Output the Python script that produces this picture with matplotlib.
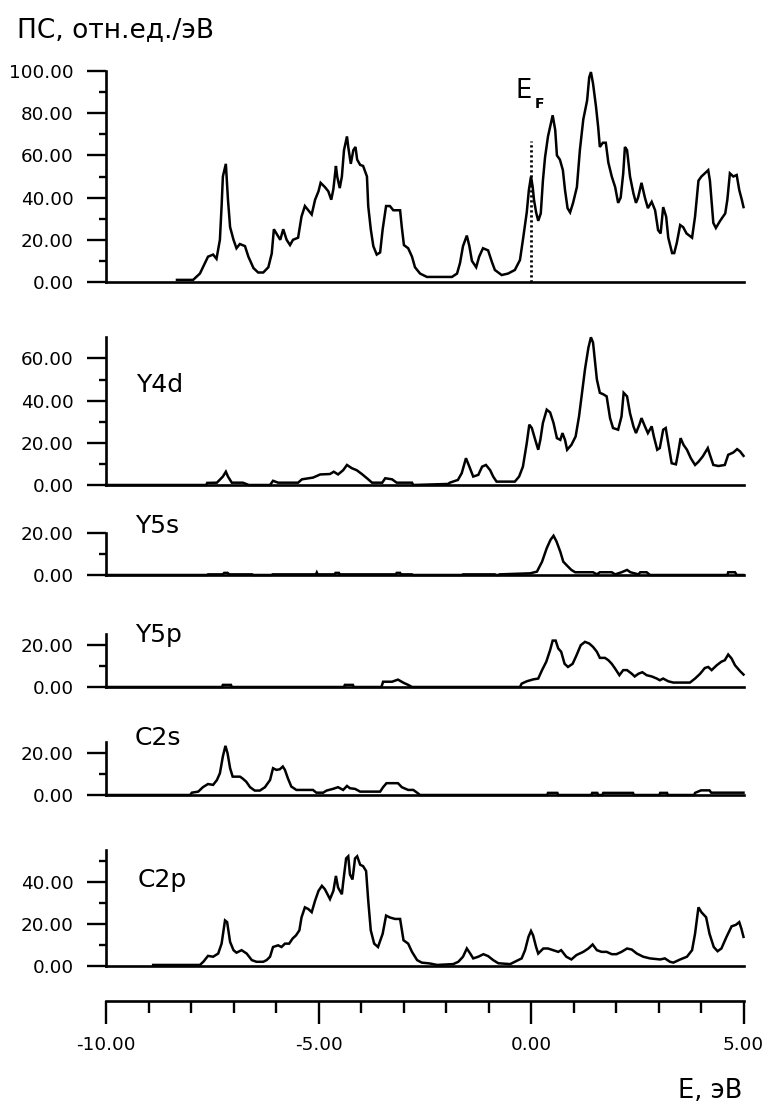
import matplotlib
matplotlib.use('Agg')
import matplotlib.pyplot as plt
from matplotlib.ticker import MultipleLocator, FixedLocator, FormatStrFormatter

plt.rcParams['font.family'] = ['DejaVu Sans']

# ---- data (energy in eV, DOS in rel. units / eV) ----
tdos_e = [-8.33, -7.95, -7.79, -7.67, -7.60, -7.48, -7.40, -7.32, -7.28, -7.25, -7.18, -7.13, -7.08, -7.00,
          -6.93, -6.85, -6.73, -6.65, -6.53, -6.42, -6.30, -6.18, -6.10, -6.05, -5.99, -5.90, -5.83, -5.75,
          -5.67, -5.60, -5.48, -5.40, -5.32, -5.24, -5.16, -5.08, -5.00, -4.95, -4.85, -4.77, -4.70, -4.65,
          -4.59, -4.56, -4.50, -4.45, -4.40, -4.33, -4.30, -4.24, -4.18, -4.13, -4.09, -4.02, -3.95, -3.86,
          -3.83, -3.77, -3.71, -3.63, -3.55, -3.49, -3.41, -3.32, -3.24, -3.16, -3.08, -3.04, -2.99, -2.89,
          -2.80, -2.73, -2.61, -2.45, -1.86, -1.74, -1.67, -1.60, -1.51, -1.45, -1.39, -1.29, -1.22, -1.13,
          -1.01, -0.92, -0.85, -0.69, -0.54, -0.38, -0.26, -0.19, -0.10, -0.05, 0.00, 0.04, 0.07, 0.12,
          0.17, 0.23, 0.28, 0.33, 0.40, 0.51, 0.57, 0.61, 0.68, 0.75, 0.80, 0.86, 0.92, 0.99, 1.08, 1.15,
          1.23, 1.32, 1.37, 1.41, 1.46, 1.53, 1.58, 1.62, 1.69, 1.76, 1.82, 1.90, 1.98, 2.05, 2.11, 2.17,
          2.21, 2.26, 2.33, 2.41, 2.47, 2.52, 2.60, 2.68, 2.75, 2.84, 2.92, 2.99, 3.05, 3.11, 3.18, 3.23,
          3.32, 3.37, 3.43, 3.51, 3.58, 3.66, 3.79, 3.86, 3.94, 4.01, 4.09, 4.17, 4.21, 4.29, 4.35, 4.45,
          4.57, 4.62, 4.68, 4.76, 4.84, 4.90, 4.96, 5.00]
tdos_v = [1.0, 1.0, 4, 9, 12, 13, 11, 20, 36, 50, 56, 39, 26, 20,
          16, 18, 17, 12, 6.6, 4.5, 4.5, 7, 13.5, 25, 23, 20, 25, 20,
          17.5, 20, 21, 31, 36, 34, 32, 39, 43, 47, 45, 43, 39, 44,
          55, 50, 44.5, 50, 62.5, 69, 64, 56, 62.5, 64, 58, 55.5, 55, 50,
          36, 25, 17, 13, 14, 25, 36, 36, 34, 34, 34, 26, 17.5, 16,
          12, 7, 4, 2.4, 2.4, 4, 9, 17, 22, 17, 10, 7, 12, 16,
          15, 9.5, 5.7, 3.3, 4, 5.7, 10.4, 20, 33, 43.6, 50, 45, 39, 33,
          29, 32.5, 48, 59, 69, 79, 72, 60, 58, 53, 43.6, 35, 33, 37.5, 45, 62.5,
          77, 86, 97, 99.5, 94, 83, 73.5, 64, 66, 66, 56.6, 50, 45, 37.5, 40, 51.5,
          64, 62.5, 50, 42, 37.5, 40, 47, 40, 35, 38, 34, 24.6, 23, 35.5, 31, 21,
          13.7, 13.7, 18.5, 27, 26, 23, 21, 31, 48, 50, 51.5, 53, 48, 28, 25.6, 29,
          32.5, 39, 51.5, 50, 50.7, 43.6, 39, 35.5]

y4d_e = [-10.0, -7.64, -7.62, -7.39, -7.25, -7.18, -7.13, -7.04, -6.78, -6.64, -6.14, -6.07, -5.95, -5.48,
         -5.39, -5.13, -4.96, -4.73, -4.64, -4.54, -4.42, -4.33, -4.22, -4.10, -3.98, -3.86, -3.74, -3.50,
         -3.43, -3.27, -3.16, -2.80, -2.77, -1.95, -1.91, -1.72, -1.63, -1.53, -1.45, -1.36, -1.24, -1.15,
         -1.06, -0.96, -0.89, -0.81, -0.38, -0.28, -0.19, -0.10, -0.04, 0.02, 0.10, 0.17, 0.22, 0.28,
         0.37, 0.45, 0.53, 0.61, 0.69, 0.74, 0.80, 0.85, 0.95, 1.05, 1.13, 1.19, 1.27, 1.35, 1.41, 1.46,
         1.55, 1.62, 1.70, 1.78, 1.86, 1.93, 2.05, 2.13, 2.18, 2.26, 2.33, 2.41, 2.47, 2.55, 2.60, 2.68,
         2.75, 2.84, 2.89, 2.97, 3.03, 3.11, 3.17, 3.23, 3.31, 3.41, 3.46, 3.52, 3.59, 3.67, 3.76, 3.86,
         3.94, 4.04, 4.16, 4.21, 4.29, 4.41, 4.56, 4.64, 4.76, 4.85, 4.92, 5.00]
y4d_v = [0, 0, 1.0, 1.1, 4, 6.3, 4, 1.1, 1.1, 0, 0, 2, 1.1, 1.1,
         2.7, 3.5, 5, 5.2, 6.3, 5, 7, 9.5, 8, 7, 5.2, 3.2, 1.1, 1.1,
         3.2, 2.7, 1.1, 1.1, 0, 0.5, 1.1, 2.4, 5.6, 12.7, 8.7, 4, 4.8, 8.7,
         9.5, 7, 4, 1.6, 1.6, 4, 8.7, 19.8, 28.6, 27, 21.4, 16.7, 21.4, 29.4,
         35.7, 34.4, 29.4, 22.2, 21.4, 24.6, 21.4, 16.7, 19, 23, 32.5, 42, 54.8, 65, 70, 67.5,
         50, 43.7, 43, 42, 31.7, 27, 26.2, 32.5, 43.7, 42, 34, 27.8, 24.6, 28.6, 31.7, 27.8,
         24.6, 27.8, 23, 16.7, 17.5, 26.2, 27, 19.8, 10.3, 9.8, 15, 22.2, 19, 16.7, 12.7, 9.5,
         11, 13.5, 17.5, 14.3, 9.5, 9, 9.5, 14.3, 15.4, 17, 15.9, 13.8]

y5s_e = [-10.0, -7.62, -7.60, -7.25, -7.22, -7.14, -7.10, -6.56, -6.54, -6.10, -6.08, -5.06, -5.04, -5.02,
         -4.62, -4.60, -4.52, -4.50, -3.18, -3.16, -3.08, -3.06, -2.80, -2.78, -1.62, -1.60, -0.85, -0.82,
         -0.76, -0.74, -0.02, 0.14, 0.26, 0.37, 0.46, 0.53, 0.60, 0.69, 0.76, 0.87, 0.95, 1.04, 1.46, 1.55,
         1.62, 1.90, 1.98, 2.13, 2.26, 2.34, 2.53, 2.57, 2.72, 2.80, 4.62, 4.64, 4.80, 4.84, 5.00]
y5s_v = [0, 0, 0.3, 0.3, 1.0, 1.0, 0.3, 0.3, 0, 0, 0.3, 0.3, 1.2, 0.3,
         0.3, 1.0, 1.0, 0.3, 0.3, 1.0, 1.0, 0.3, 0.3, 0, 0, 0.3, 0.3, 0,
         0, 0.3, 0.8, 1.6, 6.3, 12.7, 16.7, 18.6, 15.9, 11, 6.3, 4, 2.4, 1.3, 1.3, 0.3,
         1.3, 1.3, 0.3, 1.3, 2.4, 1.3, 0.3, 1.3, 1.3, 0, 0, 1.3, 1.3, 0, 0]

y5p_e = [-10.0, -7.27, -7.25, -7.06, -7.04, -4.40, -4.38, -4.19, -4.17, -3.52, -3.48, -3.27, -3.13, -3.00,
         -2.89, -2.80, -0.26, -0.22, -0.10, 0.05, 0.17, 0.26, 0.36, 0.45, 0.51, 0.58, 0.64, 0.71, 0.79,
         0.87, 0.98, 1.07, 1.17, 1.27, 1.37, 1.46, 1.55, 1.62, 1.74, 1.82, 1.90, 1.98, 2.08, 2.17, 2.26,
         2.37, 2.44, 2.53, 2.62, 2.72, 2.84, 2.96, 3.03, 3.11, 3.23, 3.35, 3.74, 3.86, 3.98, 4.09, 4.17,
         4.25, 4.37, 4.48, 4.56, 4.64, 4.72, 4.80, 4.92, 5.00]
y5p_v = [0, 0, 1, 1, 0, 0, 1, 1, 0, 0, 2.5, 2.5, 3.5, 2,
         1, 0, 0, 1.6, 2.7, 3.6, 4, 8, 12, 17.5, 22, 22, 18.3, 16.7, 11,
         9.5, 11, 15, 19.8, 21.4, 20.6, 19, 16.7, 13.8, 13.8, 12.7, 11, 8.7, 5.6, 8, 8,
         6.3, 5, 6.3, 7, 5.6, 5, 4, 3.2, 4, 2.7, 2.1, 2.1, 4, 6.3, 9, 9.5,
         8, 10.3, 12, 12.7, 15.4, 13.5, 10.3, 7.5, 5.9]

c2s_e = [-10.0, -8.02, -7.98, -7.83, -7.72, -7.60, -7.48, -7.39, -7.32, -7.25, -7.19, -7.14, -7.08, -7.02,
         -6.85, -6.79, -6.70, -6.61, -6.50, -6.38, -6.26, -6.14, -6.07, -5.99, -5.91, -5.84, -5.79, -5.72,
         -5.64, -5.52, -5.13, -5.05, -4.89, -4.81, -4.66, -4.54, -4.42, -4.33, -4.26, -4.14, -4.02, -3.55,
         -3.48, -3.40, -3.13, -3.04, -2.89, -2.77, -2.68, -2.61, 0.38, 0.40, 0.62, 0.64, 1.42, 1.44, 1.56,
         1.58, 1.68, 1.70, 2.40, 2.42, 3.02, 3.04, 3.20, 3.22, 3.84, 3.86, 4.00, 4.20, 4.24, 5.00]
c2s_v = [0, 0, 1.1, 1.6, 3.7, 5.2, 4.8, 7.1, 10.3, 18.3, 23.3, 19.8, 12.7, 8.7,
         8.7, 7.9, 6.3, 3.7, 2.1, 2.1, 3.7, 7.1, 12.7, 11.9, 12.2, 13.5, 11.9, 7.9,
         4, 2.4, 2.4, 1.1, 1.1, 2.1, 2.9, 3.7, 2.4, 4.3, 3.2, 2.9, 1.6, 1.6,
         3.7, 5.6, 5.6, 3.7, 2.4, 2.4, 1.1, 0, 0, 1, 1, 0, 0, 1, 1,
         0, 0, 1, 1, 0, 0, 1, 1, 0, 0, 1, 2.2, 2.2, 1.1, 1.1]

c2p_e = [-8.89, -7.79, -7.71, -7.60, -7.48, -7.36, -7.28, -7.20, -7.15, -7.08, -7.00, -6.93, -6.81, -6.69,
         -6.57, -6.46, -6.30, -6.22, -6.14, -6.07, -5.95, -5.87, -5.79, -5.69, -5.61, -5.53, -5.45, -5.40,
         -5.32, -5.24, -5.16, -5.08, -5.00, -4.92, -4.85, -4.73, -4.65, -4.59, -4.54, -4.45, -4.42, -4.35,
         -4.30, -4.26, -4.20, -4.14, -4.09, -4.02, -3.95, -3.88, -3.83, -3.77, -3.69, -3.60, -3.49, -3.41,
         -3.32, -3.20, -3.08, -3.00, -2.89, -2.80, -2.68, -2.57, -2.38, -2.21, -1.83, -1.71, -1.60, -1.51,
         -1.43, -1.36, -1.24, -1.12, -1.01, -0.89, -0.77, -0.49, -0.38, -0.22, -0.14, -0.06, 0.00, 0.05,
         0.12, 0.17, 0.29, 0.40, 0.52, 0.64, 0.71, 0.83, 0.95, 1.07, 1.23, 1.35, 1.45, 1.55, 1.66, 1.78,
         1.90, 2.01, 2.13, 2.26, 2.37, 2.49, 2.64, 2.80, 3.04, 3.15, 3.27, 3.35, 3.51, 3.67, 3.79, 3.86,
         3.94, 4.01, 4.12, 4.20, 4.30, 4.39, 4.48, 4.60, 4.72, 4.82, 4.90, 4.95, 5.00]
c2p_v = [0.5, 0.5, 2, 4.8, 4.4, 5.9, 10.6, 21.6, 20.8, 11.4, 7.5, 6.3, 7.5, 5.9,
         2.8, 2, 2, 2.8, 4.4, 9, 9.8, 9, 10.6, 10.6, 13, 14.5, 16.9, 23,
         27.8, 27, 25.5, 31, 35.6, 38, 36.4, 31.7, 35.6, 42.7, 37.2, 34, 39.5, 51,
         52, 43.4, 41, 51, 52, 48, 47.3, 45, 31, 16.9, 10.6, 9, 15.3, 23.9,
         23, 22.3, 22.3, 12.2, 10.6, 6.7, 2.8, 1.6, 1.2, 0.5, 0.9, 2, 4.4, 8.3,
         5.9, 3.6, 4.4, 5.6, 4.7, 2.8, 1.3, 0.9, 2, 3.6, 7.5, 13.8, 16.6, 14.5,
         9, 5.9, 8.3, 8.3, 7.5, 6.7, 7.5, 4.4, 3.1, 5.2, 6.7, 8.3, 10.2, 7.5, 6.7, 6.7,
         5.6, 5.6, 6.7, 8.3, 7.8, 5.9, 4.4, 3.6, 3.1, 3.6, 2, 1.6, 3.1, 4.4, 7.5, 15.3,
         27.8, 25.5, 23.1, 15.3, 9, 7, 8.3, 13.8, 18.8, 19.5, 20.8, 17.7, 13.8]

panel_names = ['', 'Y4d', 'Y5s', 'Y5p', 'C2s', 'C2p']
panel_ymax = [100, 70, 20, 25, 25, 55]
fermi_level = 0.0
x_ticks = [-10, -5, 0, 5]
x_tick_labels = ['-10.00', '-5.00', '0.00', '5.00']

# ---- layout (pixels of the 767x1102 picture) ----
W, H = 767, 1102
fig = plt.figure(figsize=(W / 100, H / 100), dpi=100)
fig.patch.set_facecolor('white')

x_left, x_right = 106, 743.5
zero_px = [282, 485, 575, 687, 795, 966]          # pixel row of y = 0
px_per_unit = 2.11
label_pos = [None, (136, 392), (135, 533), (135, 642), (135, 745), (138, 887)]

series = [(tdos_e, tdos_v), (y4d_e, y4d_v), (y5s_e, y5s_v),
          (y5p_e, y5p_v), (c2s_e, c2s_v), (c2p_e, c2p_v)]


def fx(x):
    return x / W


def fy(y):
    return 1 - y / H


axes = []
for i, (e, v) in enumerate(series):
    ymax = panel_ymax[i]
    y0 = zero_px[i]
    ytop = y0 - ymax * px_per_unit
    ax = fig.add_axes([fx(x_left), fy(y0), (x_right - x_left) / W, (y0 - ytop) / H])
    ax.patch.set_visible(False)
    ax.set_xlim(-10, 5)
    ax.set_ylim(0, ymax)
    ax.spines['top'].set_visible(False)
    ax.spines['right'].set_visible(False)
    ax.spines['left'].set_linewidth(1.9)
    ax.spines['bottom'].set_linewidth(1.9)
    ax.set_xticks([])
    ax.yaxis.set_major_locator(MultipleLocator(20))
    ax.yaxis.set_minor_locator(FixedLocator([m for m in range(10, ymax, 20)]))
    ax.yaxis.set_major_formatter(FormatStrFormatter('%.2f'))
    ax.tick_params(axis='y', which='major', length=13.7, width=1.7, pad=9.5, labelsize=13.2)
    ax.tick_params(axis='y', which='minor', length=5, width=1.7)
    ax.plot(e, v, color='black', lw=1.8, clip_on=False, solid_joinstyle='miter')
    if panel_names[i]:
        lx, ly = label_pos[i]
        fig.text(fx(lx), fy(ly), panel_names[i], fontsize=18, va='baseline', ha='left')
    axes.append(ax)

# Fermi level marker on the total DOS
ax0 = axes[0]
ax0.plot([fermi_level, fermi_level], [0, 67], color='black', lw=2, ls=(0, (0.8, 1.0)))
fig.text(fx(515), fy(98), 'E', fontsize=18.5, va='baseline', ha='left')
fig.text(fx(535), fy(108), 'F', fontsize=10, va='baseline', ha='left', fontweight='bold')

# title
fig.text(fx(17), fy(37), 'ПС, отн.ед./эВ', fontsize=19, va='baseline', ha='left')

# separate energy axis at the bottom
axx = fig.add_axes([fx(x_left), fy(1001), (x_right - x_left) / W, 0.0005])
axx.patch.set_visible(False)
axx.set_xlim(-10, 5)
for s in ['top', 'right', 'left']:
    axx.spines[s].set_visible(False)
axx.spines['bottom'].set_linewidth(1.9)
axx.set_yticks([])
axx.set_xticks(x_ticks)
axx.set_xticklabels(x_tick_labels)
axx.xaxis.set_minor_locator(MultipleLocator(1))
axx.tick_params(axis='x', which='major', length=16.3, width=1.7, pad=9, labelsize=13.2)
axx.tick_params(axis='x', which='minor', length=8.6, width=1.7)

fig.text(fx(742), fy(1098), 'E, эВ', fontsize=18.5, va='baseline', ha='right')

fig.savefig('out.png', dpi=100, facecolor='white')
